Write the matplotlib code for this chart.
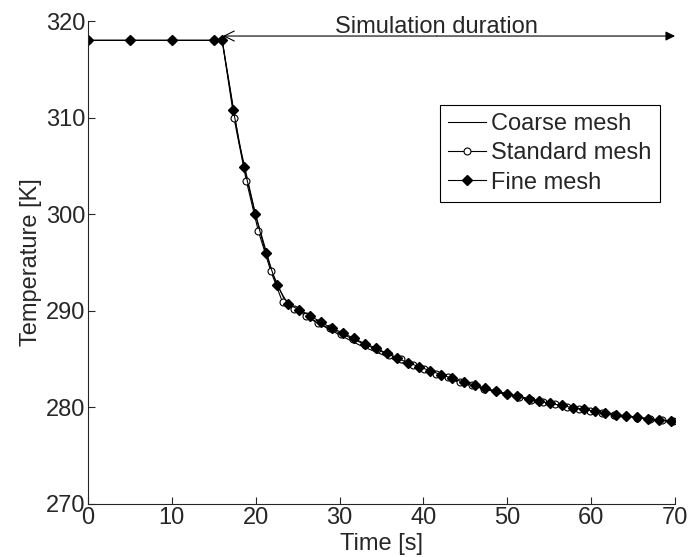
import matplotlib
matplotlib.use('Agg')
import matplotlib.pyplot as plt

plt.rcParams['font.family'] = ['Liberation Sans', 'DejaVu Sans']

# text sizes
tick_fontsize = 17
label_fontsize = 17
legend_fontsize = 17
text_color = '#262626'

# coarse mesh (plain line)
coarse_time = [0, 5, 10, 15, 16, 18, 20, 22, 23.5, 25, 27.5, 30, 32.5, 35, 37.5,
               40, 45, 50, 55, 60, 65, 70]
coarse_temp = [318, 318, 318, 318, 318, 307.5, 299.9, 293.9, 291.0, 290.2, 288.7,
               287.5, 286.4, 285.5, 284.6, 283.8, 282.4, 281.3, 280.4, 279.6, 279.0, 278.5]

# standard mesh (open circles)
standard_time = [0, 5, 10, 15, 16, 17.4, 18.9, 20.3, 21.8, 23.2, 24.6, 25.95, 27.4,
                 28.8, 30.2, 31.6, 33.0, 34.5, 35.9, 37.3, 38.7, 40.1, 41.5, 42.9,
                 44.4, 45.8, 47.2, 48.6, 50.0, 51.4, 52.8, 54.2, 55.7, 57.1, 58.5,
                 59.9, 61.3, 62.7, 64.1, 65.5, 67.0, 68.4, 69.8]
standard_temp = [318, 318, 318, 318, 318, 310.0, 303.4, 298.3, 294.1, 290.9, 290.2,
                 289.5, 288.7, 288.2, 287.6, 287.1, 286.5, 286.0, 285.4, 285.0, 284.4,
                 284.0, 283.5, 283.1, 282.65, 282.3, 281.95, 281.65, 281.35, 281.1,
                 280.8, 280.55, 280.3, 280.05, 279.85, 279.65, 279.45, 279.25, 279.1,
                 278.95, 278.8, 278.65, 278.55]

# fine mesh (filled diamonds)
fine_time = [0, 5, 10, 15, 16, 17.33, 18.6, 19.95, 21.2, 22.5, 23.85, 25.2, 26.5,
             27.8, 29.1, 30.4, 31.7, 33.0, 34.35, 35.6, 36.85, 38.16, 39.47, 40.78,
             42.1, 43.45, 44.8, 46.15, 47.4, 48.7, 49.96, 51.2, 52.55, 53.8, 55.1,
             56.5, 57.8, 59.15, 60.46, 61.7, 62.96, 64.2, 65.5, 66.8, 68.1, 69.5]
fine_temp = [318, 318, 318, 318, 318, 310.8, 304.9, 300.0, 296.0, 292.7, 290.7,
             290.1, 289.5, 288.8, 288.2, 287.7, 287.15, 286.6, 286.15, 285.6, 285.1,
             284.63, 284.22, 283.8, 283.39, 283.0, 282.6, 282.29, 281.98, 281.7,
             281.42, 281.18, 280.9, 280.66, 280.42, 280.2, 279.97, 279.8, 279.6,
             279.42, 279.25, 279.1, 278.97, 278.83, 278.7, 278.6]

x_ticks = [0, 10, 20, 30, 40, 50, 60, 70]
y_ticks = [270, 280, 290, 300, 310, 320]

fig = plt.figure(figsize=(6.89, 5.57), dpi=100)
ax = fig.add_axes([0.1277, 0.0952, 0.852, 0.867])

ax.plot(coarse_time, coarse_temp, color='black', linewidth=0.8, label='Coarse mesh')
ax.plot(standard_time, standard_temp, color='black', linewidth=0.8, marker='o',
        markersize=5, markerfacecolor='white', markeredgecolor='black',
        markeredgewidth=0.8, label='Standard mesh')
ax.plot(fine_time, fine_temp, color='black', linewidth=0.8, marker='D',
        markersize=5, markerfacecolor='black', markeredgecolor='black',
        label='Fine mesh')

ax.set_xlim(0, 70)
ax.set_ylim(270, 320)
ax.set_xticks(x_ticks)
ax.set_yticks(y_ticks)

# MATLAB look: box off, ticks inward
ax.spines['top'].set_visible(False)
ax.spines['right'].set_visible(False)
for s in ['left', 'bottom']:
    ax.spines[s].set_linewidth(0.8)
    ax.spines[s].set_color(text_color)
ax.tick_params(direction='in', length=5, width=0.8, colors=text_color,
               labelsize=tick_fontsize, pad=2)

ax.set_xlabel('Time [s]', fontsize=label_fontsize, color=text_color, labelpad=3)
ax.set_ylabel('Temperature [K]', fontsize=label_fontsize, color=text_color, labelpad=3)

# simulation duration arrow
arrow_y = 318.45
ax.annotate('', xy=(16.1, arrow_y), xytext=(41.6, arrow_y),
            arrowprops=dict(arrowstyle='->', color='black', lw=0.8,
                            shrinkA=0, shrinkB=0, mutation_scale=18),
            annotation_clip=False)
ax.annotate('', xy=(70, arrow_y), xytext=(41.6, arrow_y),
            arrowprops=dict(arrowstyle='-|>', color='black', lw=0.8,
                            shrinkA=0, shrinkB=0, mutation_scale=14),
            annotation_clip=False)
ax.text(41.6, 318.8, 'Simulation duration', ha='center', va='baseline',
        fontsize=label_fontsize, color=text_color, clip_on=False)

leg = ax.legend(loc='upper left', bbox_to_anchor=(0.6, 0.826), fontsize=legend_fontsize,
                frameon=True, fancybox=False, edgecolor='black', framealpha=1,
                handlelength=1.6, handletextpad=0.2, labelspacing=0.3,
                borderpad=0.35, borderaxespad=0)
leg.get_frame().set_linewidth(0.8)
for t in leg.get_texts():
    t.set_color(text_color)

fig.savefig('out.png', dpi=100)
